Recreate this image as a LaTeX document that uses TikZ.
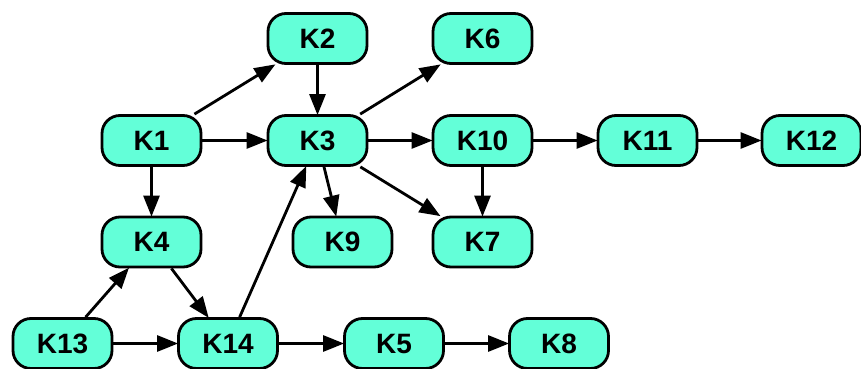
\documentclass[tikz,border=0pt]{standalone}
\usepackage{fontspec}
\setmainfont{Liberation Sans}
\usetikzlibrary{arrows.meta}
\definecolor{kfill}{RGB}{99,255,216}
\begin{document}
\begin{tikzpicture}[x=1pt,y=-1pt,
 box/.style={draw=black, line width=2.8pt, fill=kfill, rounded corners=18pt,
   minimum width=99pt, minimum height=50pt, inner sep=0pt,
   font=\fontsize{28}{30}\selectfont\bfseries},
 arr/.style={-{Triangle[length=21pt,width=16pt]}, line width=2.8pt, shorten >=-1pt}]
\useasboundingbox (0,0) rectangle (861,369);
\node[box] (K2)  at (317.5,38.5) {K2};
\node[box] (K6)  at (482.5,38.5) {K6};
\node[box] (K1)  at (151.5,140.5) {K1};
\node[box] (K3)  at (317.5,140.5) {K3};
\node[box] (K10) at (482.5,140.5) {K10};
\node[box] (K11) at (647.5,140.5) {K11};
\node[box] (K12) at (811.5,140.5) {K12};
\node[box] (K4)  at (151.5,242) {K4};
\node[box] (K9)  at (342.5,242) {K9};
\node[box] (K7)  at (482.5,242) {K7};
\node[box] (K13) at (62.5,343.5) {K13};
\node[box] (K14) at (228,343.5) {K14};
\node[box] (K5)  at (394,343.5) {K5};
\node[box] (K8)  at (559,343.5) {K8};
\draw[arr] (K1) -- (K2);
\draw[arr] (K2) -- (K3);
\draw[arr] (K1) -- (K3);
\draw[arr] (K1) -- (K4);
\draw[arr] (K3) -- (K6);
\draw[arr] (K3) -- (K10);
\draw[arr] (K3) -- (K9);
\draw[arr] (K3) -- (K7);
\draw[arr] (K10) -- (K11);
\draw[arr] (K11) -- (K12);
\draw[arr] (K10) -- (K7);
\draw[arr] (K13) -- (K4);
\draw[arr] (K4) -- (K14);
\draw[arr] (K14) -- (K3);
\draw[arr] (K13) -- (K14);
\draw[arr] (K14) -- (K5);
\draw[arr] (K5) -- (K8);
\end{tikzpicture}
\end{document}
